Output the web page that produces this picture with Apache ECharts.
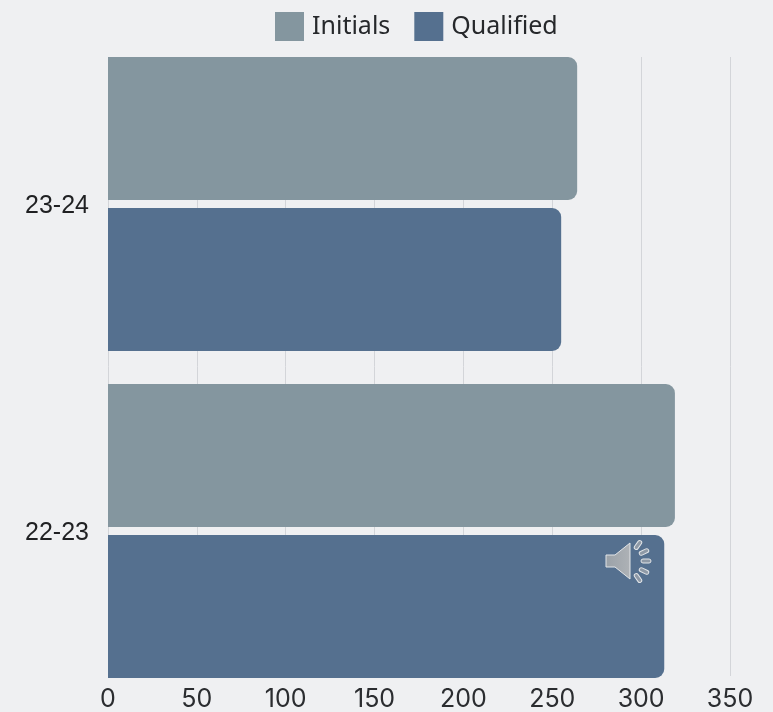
<!DOCTYPE html>
<html>
<head>
<meta charset="utf-8">
<style>
  html, body { margin: 0; padding: 0; background: #eff0f2; }
  #chart { width: 773px; height: 712px; }
</style>
<script src="https://cdn.jsdelivr.net/npm/echarts@6/dist/echarts.min.js"></script>
</head>
<body>
<div id="chart"></div>
<script>
const categories = ['23-24', '22-23'];
const initials = [264, 319];
const qualified = [255, 313];
const valueTicks = { min: 0, max: 350, interval: 50 };

const chart = echarts.init(document.getElementById('chart'));
const legendFont = '"Noto Sans", sans-serif';
const tickFont = 'Inter, "Noto Sans", sans-serif';

// Speaker badge on the lower bar, built from simple shapes
const speakerRays = [
  { x: 638, y: 545, deg: -55 },
  { x: 644, y: 552, deg: -25 },
  { x: 646, y: 561, deg: 0 },
  { x: 644, y: 571, deg: 25 },
  { x: 638, y: 578, deg: 55 }
].map(function (ray) {
  return {
    type: 'rect', z: 100,
    x: ray.x, y: ray.y,
    rotation: -ray.deg * Math.PI / 180,
    shape: { x: -5, y: -2, width: 10, height: 4, r: 2 },
    style: { fill: '#8e99a6', stroke: '#e2e5e8', lineWidth: 1 }
  };
});

chart.setOption({
  animation: false,
  backgroundColor: '#eff0f2',
  legend: {
    top: 7,
    left: 270,
    itemWidth: 29,
    itemHeight: 29,
    itemGap: 24,
    icon: 'rect',
    data: ['Initials', 'Qualified'],
    textStyle: { fontFamily: legendFont, fontSize: 25, color: '#26282b', padding: [0, 0, 0, 3] }
  },
  grid: [
    // Frame for the value scale and its gridlines
    { left: 108, right: 43, top: 57, height: 621 },
    // Frame for the bars, with a band that overhangs the gridlines
    { left: 108, right: 43, top: 40.5, height: 654 }
  ],
  xAxis: [
    {
      type: 'value', gridIndex: 0,
      min: valueTicks.min, max: valueTicks.max, interval: valueTicks.interval,
      axisLine: { show: false }, axisTick: { show: false },
      splitLine: { show: true, lineStyle: { color: '#d3d5d9', width: 1 } },
      axisLabel: { fontFamily: tickFont, fontSize: 25, color: '#2b2d30', margin: 11 }
    },
    {
      type: 'value', gridIndex: 1,
      min: valueTicks.min, max: valueTicks.max, interval: valueTicks.interval,
      axisLine: { show: false }, axisTick: { show: false },
      splitLine: { show: false }, axisLabel: { show: false }
    }
  ],
  yAxis: [
    {
      type: 'category', gridIndex: 0, data: categories, inverse: true,
      axisLine: { show: false }, axisTick: { show: false }, axisLabel: { show: false }
    },
    {
      type: 'category', gridIndex: 1, data: categories, inverse: true,
      axisLine: { show: false }, axisTick: { show: false },
      axisLabel: {
        margin: 19,
        formatter: function (value) { return '{band|' + value + '}'; },
        rich: {
          band: {
            fontFamily: '"Liberation Sans", Arial, sans-serif', fontSize: 25, color: '#1f2022',
            padding: [5, 0, 0, 0]
          }
        }
      }
    }
  ],
  series: [
    {
      name: 'Initials', type: 'bar', xAxisIndex: 1, yAxisIndex: 1,
      data: initials, barWidth: 143, barGap: '5.6%',
      itemStyle: { color: '#84969f', borderRadius: [0, 9, 9, 0] }
    },
    {
      name: 'Qualified', type: 'bar', xAxisIndex: 1, yAxisIndex: 1,
      data: qualified, barWidth: 143, barGap: '5.6%',
      itemStyle: { color: '#55708f', borderRadius: [0, 9, 9, 0] }
    }
  ],
  graphic: [
    {
      type: 'polygon', z: 100,
      shape: { points: [[606, 555], [615, 555], [630, 543], [630, 579], [615, 567], [606, 567]] },
      style: {
        fill: new echarts.graphic.LinearGradient(0, 0, 1, 0, [
          { offset: 0, color: '#9aa1a8' },
          { offset: 1, color: '#aeb2b6' }
        ]),
        stroke: '#e2e5e8', lineWidth: 1, lineJoin: 'round'
      }
    }
  ].concat(speakerRays)
});
</script>
</body>
</html>
